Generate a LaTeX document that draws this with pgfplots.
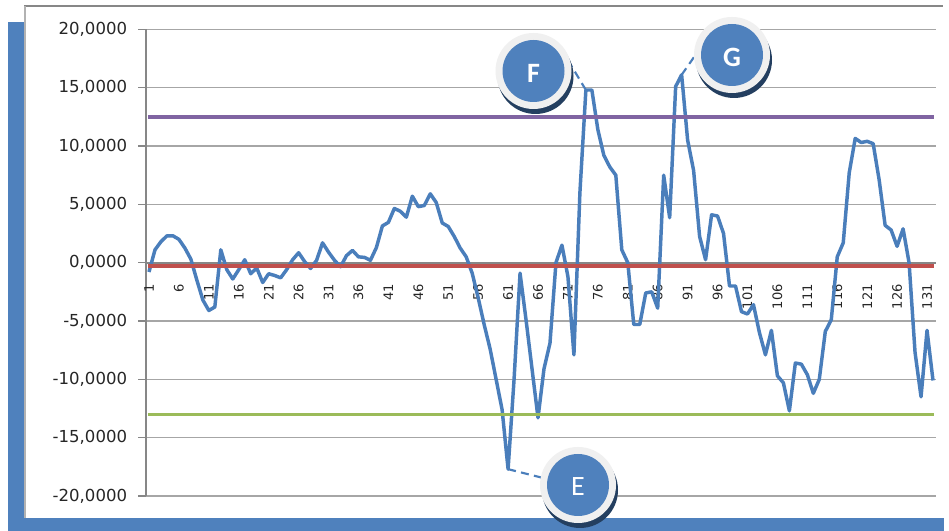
\documentclass[border=0pt]{standalone}
\usepackage{pgfplots}
\pgfplotsset{compat=1.18}
\usepackage{fontspec}
\setmainfont{DejaVu Sans}
\newfontfamily\calloutfont{Carlito}

\definecolor{frameblue}{HTML}{4F81BD}
\definecolor{seriesblue}{HTML}{4A7EBB}
\definecolor{lavender}{HTML}{8064A2}
\definecolor{olive}{HTML}{9BBB59}
\definecolor{brick}{HTML}{C0504D}
\definecolor{gridgray}{HTML}{A6A6A6}
\definecolor{axisgray}{HTML}{878787}
\definecolor{ringgray}{HTML}{F0F0F0}
\definecolor{shadownavy}{HTML}{243F60}
\definecolor{labelgray}{HTML}{262626}

% round callout badge: centre x, centre y, letter, font
\newcommand{\callout}[4]{%
  \fill[shadownavy] (#1+2,#2-5) circle[radius=38];
  \fill[ringgray] (#1,#2) circle[radius=38];
  \fill[frameblue] (#1,#2) circle[radius=31];
  \node[text=white, font=#4, inner sep=0pt] at (#1,#2-2) {#3};
}

\begin{document}
\begin{tikzpicture}[x=0.75pt, y=0.75pt]
\useasboundingbox (0,0) rectangle (949,531);
\fill[white] (0,0) rectangle (949,531);
% blue backing and white panel
\fill[frameblue] (8,0) rectangle (944,509);
\fill[white] (25,13) rectangle (944,524.5);
\draw[axisgray, line width=1.5pt] (24,524.5) -- (943,524.5);
\draw[gray!60, line width=1pt] (25,13) -- (25,524.5);

\begin{axis}[
  at={(109.5pt,26.25pt)}, anchor=south west,
  scale only axis, width=592.5pt, height=350pt,
  xmin=0.5, xmax=132.5, ymin=-20, ymax=20,
  axis x line=middle, axis y line=left,
  axis line style={-, draw=axisgray, line width=1.3pt},
  hide obscured y ticks=false,
  ytick={-20,-15,...,20},
  xtick={1,6,...,131},
  ymajorgrids, grid style={gridgray, line width=1pt},
  tick align=outside, major tick length=6pt,
  xtick style={draw=none},
  ytick style={axisgray, line width=1pt},
  /pgf/number format/assume math mode=true,
  yticklabel={\pgfmathprintnumber[fixed, fixed zerofill, precision=4, use comma]{\tick}},
  yticklabel style={font=\fontsize{12.4pt}{14pt}\selectfont, text=labelgray, anchor=east, inner sep=0pt, xshift=-8pt},
  xticklabel style={font=\fontsize{9.8pt}{12pt}\selectfont, text=labelgray, yshift=-10pt, rotate=90, anchor=east, inner sep=0pt},
  clip=false,
]
\addplot[seriesblue, line width=2.6pt, line join=round, mark=none] coordinates {
(1,-0.8) (2,1.1) (3,1.8) (4,2.3) (5,2.3) (6,2.0) (7,1.25) (8,0.3) (9,-1.5) (10,-3.2)
(11,-4.1) (12,-3.8) (13,1.1) (14,-0.6) (15,-1.4) (16,-0.6) (17,0.25) (18,-0.95) (19,-0.45) (20,-1.7)
(21,-0.95) (22,-1.1) (23,-1.3) (24,-0.6) (25,0.25) (26,0.85) (27,0.1) (28,-0.5) (29,0.2) (30,1.7)
(31,0.9) (32,0.2) (33,-0.35) (34,0.6) (35,1.05) (36,0.5) (37,0.45) (38,0.2) (39,1.3) (40,3.15)
(41,3.45) (42,4.65) (43,4.4) (44,3.9) (45,5.7) (46,4.8) (47,4.9) (48,5.9) (49,5.15) (50,3.4)
(51,3.1) (52,2.25) (53,1.25) (54,0.5) (55,-0.9) (56,-3.0) (57,-5.3) (58,-7.4) (59,-10.0) (60,-12.6)
(61,-17.7) (62,-10.0) (63,-0.9) (64,-4.9) (65,-9.1) (66,-13.3) (67,-9.1) (68,-6.9) (69,0.0) (70,1.5)
(71,-1.2) (72,-7.9) (73,6.0) (74,14.8) (75,14.8) (76,11.4) (77,9.2) (78,8.2) (79,7.5) (80,1.1)
(81,0.0) (82,-5.3) (83,-5.3) (84,-2.6) (85,-2.5) (86,-3.9) (87,7.5) (88,3.85) (89,15.1) (90,16.1)
(91,10.5) (92,7.9) (93,2.25) (94,0.25) (95,4.1) (96,4.0) (97,2.5) (98,-2.0) (99,-2.0) (100,-4.2)
(101,-4.4) (102,-3.6) (103,-6.0) (104,-7.9) (105,-5.8) (106,-9.7) (107,-10.3) (108,-12.7) (109,-8.6) (110,-8.7)
(111,-9.6) (112,-11.2) (113,-10.0) (114,-5.9) (115,-4.9) (116,0.5) (117,1.7) (118,7.7) (119,10.65) (120,10.3)
(121,10.4) (122,10.2) (123,7.1) (124,3.2) (125,2.8) (126,1.4) (127,2.9) (128,0.0) (129,-7.7) (130,-11.5)
(131,-5.8) (132,-10.1)
};
% reference levels
\addplot[lavender, line width=2.8pt, mark=none] coordinates {(0.8,12.47) (132.2,12.47)};
\addplot[brick, line width=3pt, mark=none] coordinates {(0.8,-0.3) (132.2,-0.3)};
\addplot[olive, line width=2.6pt, mark=none] coordinates {(0.8,-13.0) (132.2,-13.0)};

\coordinate (pE) at (axis cs:61,-17.7);
\coordinate (pF) at (axis cs:74,14.8);
\coordinate (pG) at (axis cs:90,16.1);
\end{axis}

% leader lines from the marked extremes to their badges
\begin{scope}[seriesblue, line width=1.6pt, dash pattern=on 6pt off 4pt]
  \draw (pE) -- (555,50);
  \draw (pF) -- (560,484);
  \draw (pG) -- (708,494);
\end{scope}

\callout{578}{46}{E}{\calloutfont\fontsize{21pt}{24pt}\selectfont}
\callout{533.5}{460}{F}{\calloutfont\bfseries\fontsize{21pt}{24pt}\selectfont}
\callout{732}{476}{G}{\calloutfont\bfseries\fontsize{21pt}{24pt}\selectfont}
\end{tikzpicture}
\end{document}
